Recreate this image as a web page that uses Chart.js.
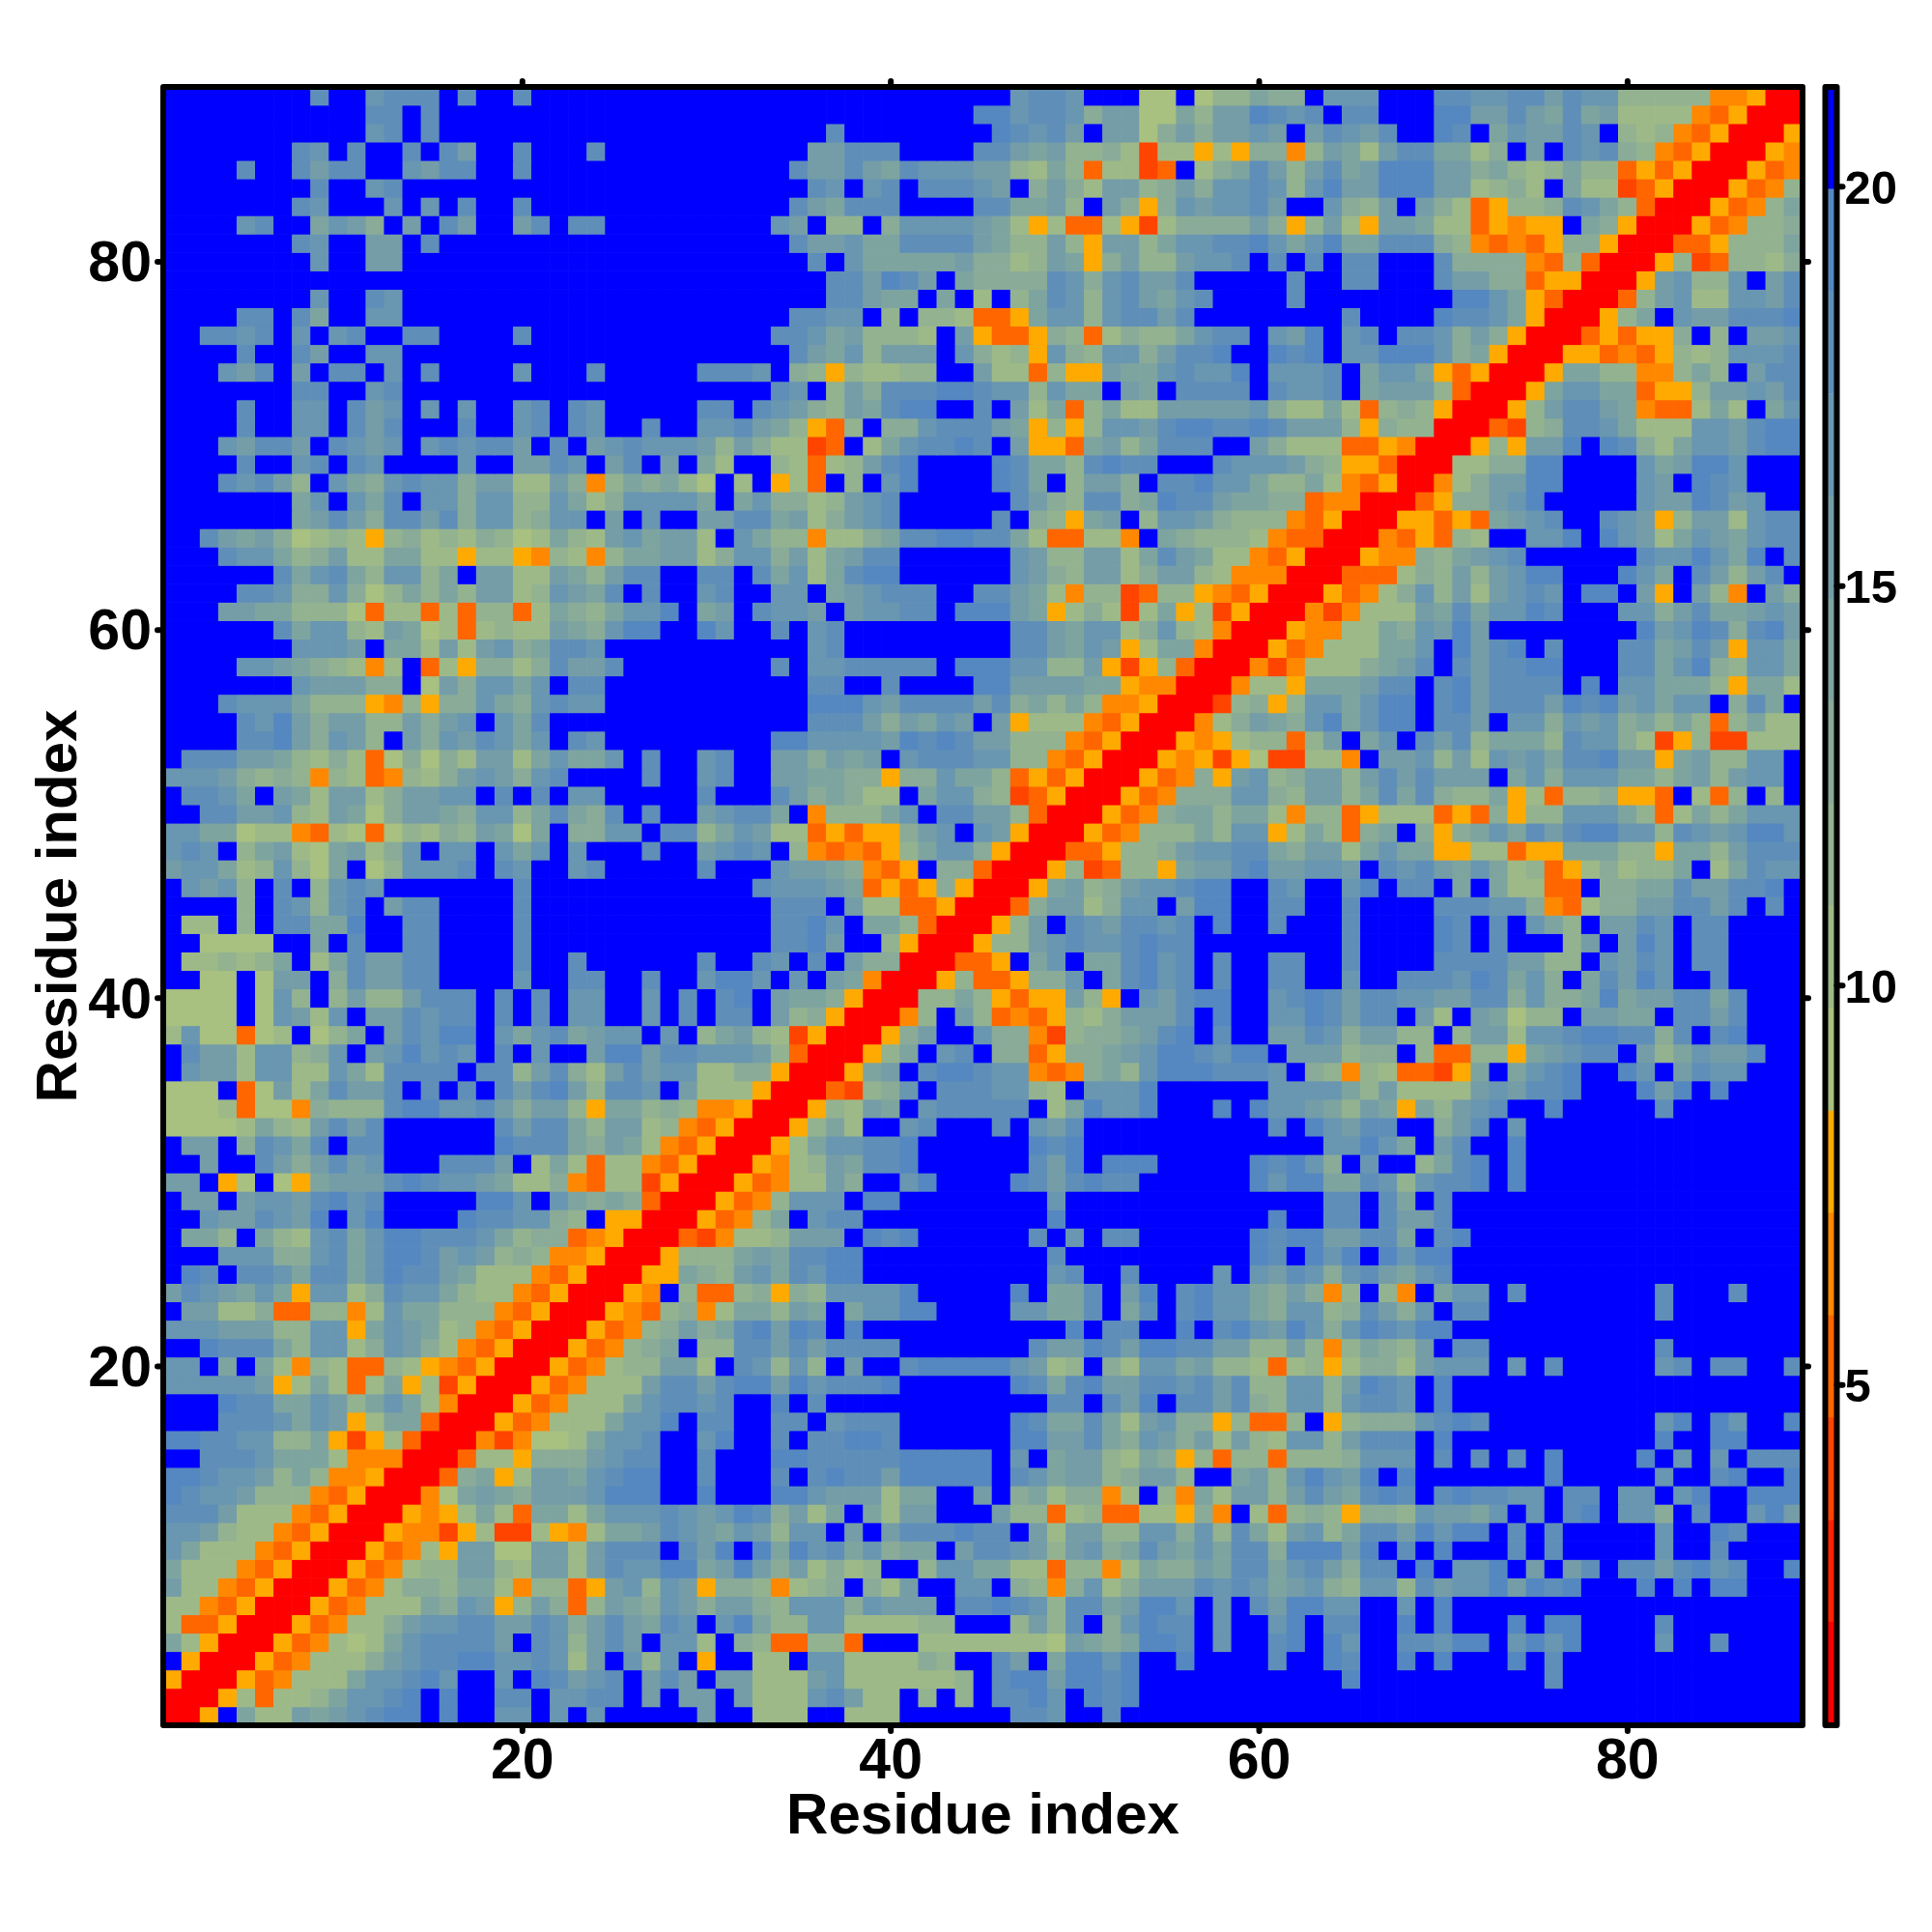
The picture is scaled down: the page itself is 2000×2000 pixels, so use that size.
<!DOCTYPE html>
<html>
<head>
<meta charset="utf-8">
<title>Residue index map</title>
<script src="https://cdn.jsdelivr.net/npm/chart.js@4"></script>
<style>
  html, body { margin: 0; padding: 0; background: #fff; }
  canvas { position: absolute; top: 0; }
  #mapChart { left: 0; }
  #barChart { left: 1870px; }
</style>
</head>
<body>
<canvas id="mapChart" width="2000" height="2000"></canvas>
<canvas id="barChart" width="130" height="2000"></canvas>
<script>
// one string per row, top row (residue 89) first, one character per residue
// groups of ten are only there so the columns can be counted
var mapRows = [
  "........8. .7888.8..8 .......... .......... ......7887 ...11.1335 44.777...8 8778868773 3333aayrr",
  ".......... .88.8..... .......... .......... ....997887 4661153669 878.88...9 9668658562 222aoyrrr",
  ".......... .78.8..... .......... ......8... .....98786 .661464667 6.68768..9 8.576687.3 23aoyrrry",
  ".......87. 8..8.86..8 ...8...... .....66888 ....886563 342d22y2y4 4a36526885 524.6.8784 3aoyrrrya",
  "....8..868 8..7688..8 .......... ....866865 8777663253 o22do.2458 6368569996 645323533o yoyrrryoa",
  "........8. .78....... .......... .....87.78 .88876.464 2663464778 7379669996 62342.522d oyrrryoa3",
  ".......87. ..7.7.8..8 .......... ....865888 ....885563 .64y476778 6..7436.64 2oy3348753 orrryoa35",
  "....78..57 64.6.86..6 8.88...... ...76.33.4 7777652y2o o2yd244446 4y362y6652 2oyayy.54y rrryoa334",
  ".......87. .66.8..... .......... ....866755 8888653363 y663577889 7579558884 3aoaoy44yr rrooy3335",
  "........7. .66....... .......... .....8.755 5556442365 y46336778. 8.8.88...8 4444ao3orr ry3do3324",
  ".......... .......... .......... ......8869 86.5444487 478668.... .8..88...8 6644oyyrrr y67337.68",
  "........7. .87....... .......... ......8865 5.5.2.3587 3786578... .8........ 9975yorrro 367227768",
  "....88.85. .77....... .......... ....8877.3 .332ooy577 378868.... ....8....9 8875yrrry3 5.7668889",
  "..8878.7.7 8..88....8 .......... ...8875633 32.6yooy43 o24335788. 769.78.887 464yrrroyo yy4.3.667",
  "....8..86. .77....... .......... ....865736 66.7423y74 37746889.. 989.779997 45yrrryyoa oy3237778",
  "...768.6.8 8.7.8....7 ...8.....8 887.43y322 33..622o3y y65578779. 7778.5775y oyrrry5533 aa353.688",
  ".......88. .78....... .......... ...87.3648 8899877375 5.65.8888. 8778.56663 orrry57755 oyy366768",
  "....8..77. 867.7.7..7 8.87.....8 8.87643658 99..8.625o 3522666667 42252o343y rrry368865 aoo252.57",
  "....8..77. 868...8..7 8.87..8..7 78653yo3.4 4788865y3y 3776899889 86663y433r rrod348875 222776899",
  "...76886.8 767.787886 .8.6787776 36422do.25 78898.6yyo 5635888..6 4222ooyarr ry3y669.98 425776899",
  "....8..78. 87....7..6 687.68.6.5 2..32o2368 9....98553 8988...877 7643yyorrr 224499.... 756997...",
  "...87863.7 5478774662 264a354531 .2.y2o.3.7 9....985.3 664.889775 3352aoyrra 246699.... 76.987...",
  ".......57. 758.774773 3752477775 .574423678 ......8643 8845988655 44oaarrroy 44679..... 7669867..",
  ".......568 6488684773 477.6.7..6 6885624678 .....8.43y 56.3776433 3aoyrrryyo yo5678..87 6y3662788",
  "..86564123 2y34232431 2532675662 .7533a2245 88998852oo 22a.543332 aoorrraoyo 32..779.97 625765788",
  "...8775346 225522y22y a32a355662 4774625688 ......7633 662586522a oyrrryaa43 5678...... 8779759.8",
  "......8578 537735.662 2653688..8 8.85725899 ......7643 66246632aa arrrooo243 636799...9 75.86368.",
  "....887447 4135353662 37658.8..7 8..77.5678 88..88652a 33do33yaoy rrryoa2473 626787.99. 6y.63a.64",
  "...6655333 1o22o2o33o 25435779.5 6.8776.677 88.99965y2 42d25y2dyr rrada22265 857798...7 746855676",
  "......8577 326512o232 2654799..9 7..8.78... ......8865 7724732arr ryaa225476 96........ 967984896",
  ".......777 6.55262674 5887...... .....78... ......8865 76y255arrr yoa222557. 9689.8...8 85686y775",
  "....776543 2a2.o2y442 48668..... ...8.77888 88.9997733 6ydy3orrra da2224568. 868899...8 857943775",
  ".......766 644.164775 7.88...... .....88..8 ....996666 55yaarrra2 2y555688.8 968888.9.7 75553y552",
  "...8777533 3ya3y44754 7877...... .....99976 8888684535 3aayrrrd34 y3775799.8 9688869896 7577.485.",
  "....879646 6336467.75 8......... .....88864 6576.6y222 aoyrrra246 54795799.8 86.7747674 5353o3522",
  "....889647 63.6476875 7.87...... ...9977776 989866333a oyrrryay23 3o36.57.86 8355538774 2dy3dd222",
  ".888665324 2o14142662 57557.8..7 8..664656. 78887733ao yrrryaydy1 dd22a.6673 6276758896 6y563377.",
  "77764343a3 2oa3246764 78....8..7 8..665544y 447553oyoy rrryoa4y67 3466368686 66.5747775 53563677.",
  ".8875.6526 6246677.8. 8.77.....8 ...8645422 .57743doyr rryoa44477 4366358584 335y2o334y yo.2o3.3.",
  "..88667326 5146654773 58548.8..6 7885.a3335 7.88663orr ryoa455355 2a33oy222o yo4y337775 3o2535777",
  "7755122ao2 1o13243651 5.4477.883 57622oyoyy 467.76yrrr yoa3335377 y253o45.4y 4575868997 738767997",
  "787.356215 6247.77.75 7.7...8..6 787.3aoaoy 35774yrrro oy33467788 546625755y y22oyy5553 3y5536888",
  "6775237315 .137778.87 ..78.....8 ...76654ao y.44orrry3 do33y56689 66776.8786 57523oy242 335.25877",
  ".7673.8.37 87.......8 .......... ..877765oy oy4yrrry56 34677899.. 87..79.88. 5.522oo.44 55866889.",
  "....3.8737 8.688....8 .......... ...888.622 ooyrrro466 2477.699.. 88..8....8 88774ao244 668868.8.",
  ".22.3.8855 9..88....8 .......... ...8897.55 3orrry36.8 768878.9.. 8...8....9 8.8.753.66 87.88....",
  "..1111..5. 8..88....8 .......... ...8896..3 yrrry33678 778988.... ....8....9 8.8...36.6 97.88....",
  ".223235.25 86688....8 ..8......8 ..87.8.644 rrrooy.57. 558978.8.. 88..8....8 8886633.76 87.88....",
  "..11.166.4 86688....7 ..88..8..7 997.7.65ar rry3ooy447 .58978.8.. 88..7..888 798574.586 97..8....",
  "1111.173.3 6336888.8. 8.77..7.8. 89.6554yrr r3353yoyy6 3y.76899.. 7898688776 6884744595 668858...",
  "1111.17627 .668788.8. 8.77..7.8. 88.634yrrr a3.63oaoy3 246668.9.. 7798688.62 .65133.665 5.8868...",
  "2711o12.13 5.68799.75 785677.7.3 5632dyrrry 46..744ad3 445689.8.. 668746633. 3662778998 848.89...",
  ".866277347 .679787.8. 7..6996887 7763orrry3 5.78.44oy4 4567998799 .666344.3o o33y56788. 6357668..",
  ".766277227 528888.883 6842686772 244yrrry56 .899877aoa 4537999888 7.43a32ood y5.5789..9 7.6877...",
  "111.o16258 668.8.8.86 8963887.62 22yrrrod34 7.8887732. 7779...... 7777536222 2676889... 969.9....",
  "1112o11a43 3389977864 663y55343a ayrrry3265 .788888.25 9779...9.9 7765365y53 678..9.... .8.......",
  "1111253268 68......86 88536623ao yrrry352.. 78...8.768 .......... 8.97688..4 68.7...... .........",
  ".66.48758. 88......98 8854652aoy rrry257788 9......989 .......... ...77975.6 8..9...... .........",
  "..6..86468 67...8886. 252o22aoyr rrya236588 9......869 .999.....9 8974.7..35 89.9...... .........",
  "66.y1.1y56 6689877652 24ao22dyrr ryoa2264.. 79....9868 988......9 7995587378 89.9...... .........",
  ".66.677689 78.....997 .75454orrr yoa3777.99 ........7. .......... ...88.85.8 .......... .........",
  "..7668769. 79....9887 743.yyrrry oa35.788.. ........9. .......... 9..88.8668 .......... .........",
  ".553.53278 5799888753 44oayrrrod a223666.98 9......8.7 .88......9 89966885.8 9......... .........",
  "...7774478 5799867634 3aayrrry33 35658899.. ........8. .........9 8.979.9799 .......... .........",
  ".98.887588 5798865222 aoyrrryy54 36758799.. ........78 ..8....7.7 6874786578 .......... .........",
  "6876575y77 248775322a oyrrrya.3o o34y437777 9.....9.55 8.69.89775 464a3.3a.5 77.8...... .8...8...",
  ".66224oo33 a2755333ao yrrryao34a 255365.577 99....7755 8.58.89775 477348647. 88........ .8.......",
  "7776663377 y576523aoy rrryoa3464 589698.9.. .........9 .88..9.897 6974798799 .......... .........",
  "..98885377 247642aoyr rryoa345.3 3886868888 .......866 9869988663 363a35436. 88........ .8.......",
  "77.5.52a32 oo32yaoyrr ryoa233662 .87373.6.. 8999997623 .427756332 o23y244267 77.7.8.... .78.88..8",
  "777776y252 o25y2dyrrr yoa2226886 8996978889 ......9858 9668878683 37736987.9 .......... .........",
  "...9885576 35752arrry oa22257887 8..9.8.... ........88 .869.88684 37737887.9 .......... .........",
  "...8887576 y255orrryo a2225779.8 8..88.7888 ......9855 8526744y3o o3.y344478 98........ .79.97..9",
  "998877335y dy2orrrada 1125778..7 9..8.88998 ......9966 8547646263 27736888.9 .......... .9..99...",
  "..88875552 aaarrro22y 4446788..8 ...9988888 99999.7.56 63254y3o33 o3334777.8 .8.8.9.... 9.7.7.888",
  "998776353a ayrrro45y2 6657899..8 ...8.89886 99999.8756 634663..56 379769.9.. .....9.... .7..89..9",
  "98776333ao yrrra15654 6667999..9 ...9976662 55..6.4524 4a2.3a5266 36865898.8 98877.88.7 7.79..999",
  "8886222aoy rrryay252o 5525777876 7984625.52 66...633o2 3oo22y4a.2 o343y44376 657.7.89.7 74.8..796",
  "776322aoyr rryaady2dd 2ya2556876 576377.6.6 888988.626 6337747385 2673588697 99.8.8.... .7..98...",
  "75222aoyrr ryoa2y6611 6626888.86 9.95978574 55.6887636 7458657588 499969.8.9 ...8.8.... .7..8....",
  "5222aoyrrr yoa2336632 6626877995 696462423. .3775522o3 3a25446588 5786488.9. 779.6.68.8 868978..9",
  "622aoyrrry oa2443552a 33oy67376y 443a234.42 6..77.43a4 7246668787 5674377386 7796989... 9.9.99...",
  "22aoyrrryo a2225476y3 64o3654764 6643777476 66.8898738 856997.7.8 69977..7.9 .......... .........",
  "2ooyrrryoa 2246778866 874686587. 7953377222 233...3638 .47988.7.. 79.88..9.9 ...9.99... .8.......",
  "52yrrryoa2 125788886. 873686.772 .43oo33o.. .222222216 545998.7.. 89.97..887 99.7979... .7..8....",
  ".yrrryoa22 2467889977 8726.737.y ..22.77222 243..86.59 979..9.... 8..98..9.9 ...9.8.... .........",
  "yrrryoa222 577897..7. 98678.686. 6622267222 2223.89969 989....... ....9..... .....8.... .........",
  "rrry2o2235 7789.9..88 .7788.6.66 .622278622 .3.3.8897. 989....... .......... .......... .........",
  "rry.522656 7899.9..77 .7.7.....6 ..222..222 ......887. .8........ .......... .......... ........."
];

var levelCodes = 'rqdoay123456789.';
var levelColors = ['#ff0000', '#ff2200', '#ff4400', '#ff6600', '#ff8800', '#ffaa00',
  '#a8c080', '#9eb988', '#93b290', '#89ab98', '#7ea4a0', '#749da8', '#6996b0', '#5f8fb8', '#5588c0', '#0000ff'];
var levelEdges = [0.74, 2.03, 3.31, 4.59, 5.87, 7.15, 8.43, 9.72, 11.0, 12.28, 13.56, 14.84, 16.13, 17.41, 18.69, 19.97, 21.25];

var residueTicks = [20, 40, 60, 80];
var barTicks = [5, 10, 15, 20];
var axisTitle = 'Residue index';

var fontName = '"Liberation Sans", Arial, Helvetica, sans-serif';
Chart.defaults.color = '#000';

function buildMapDatasets() {
  var datasets = [];
  for (var i = 0; i < mapRows.length; i++) {
    var cells = mapRows[i].replace(/ /g, '');
    var residue = mapRows.length - i;
    var data = [];
    var colors = [];
    for (var j = 0; j < cells.length; j++) {
      data.push([residue - 0.5, residue + 0.5]);
      colors.push(levelColors[levelCodes.indexOf(cells.charAt(j))]);
    }
    datasets.push({ data: data, backgroundColor: colors, barPercentage: 1, categoryPercentage: 1, grouped: false });
  }
  return datasets;
}

function buildBarDatasets() {
  var datasets = [];
  for (var i = 0; i < levelColors.length; i++) {
    datasets.push({
      data: [[levelEdges[i], levelEdges[i + 1]]],
      backgroundColor: levelColors[i],
      barPercentage: 1,
      categoryPercentage: 1,
      grouped: false
    });
  }
  return datasets;
}

function tickDot(ctx, x1, y1, x2, y2) {
  ctx.beginPath();
  ctx.moveTo(x1, y1);
  ctx.lineTo(x2, y2);
  ctx.stroke();
}

// frame and the little round ticks, on the sides the chart asks for
var framePlugin = {
  id: 'frame',
  afterDatasetsDraw: function (chart, args, opts) {
    var a = chart.chartArea;
    var ctx = chart.ctx;
    ctx.save();
    ctx.strokeStyle = '#000';
    ctx.lineWidth = 6;
    ctx.lineJoin = 'round';
    ctx.lineCap = 'round';
    ctx.strokeRect(a.left, a.top, a.right - a.left, a.bottom - a.top);
    var i, p;
    for (i = 0; i < opts.xValues.length; i++) {
      p = chart.scales.x.getPixelForValue(opts.xValues[i]);
      tickDot(ctx, p, a.top, p, a.top - 6);
      tickDot(ctx, p, a.bottom, p, a.bottom + 6);
    }
    for (i = 0; i < opts.yValues.length; i++) {
      p = chart.scales.y.getPixelForValue(opts.yValues[i]);
      if (opts.leftTicks) tickDot(ctx, a.left, p, a.left - 6, p);
      tickDot(ctx, a.right, p, a.right + 6, p);
    }
    ctx.restore();
  }
};

var labels = [];
for (var n = 1; n <= mapRows.length; n++) labels.push(n);

new Chart(document.getElementById('mapChart').getContext('2d'), {
  type: 'bar',
  data: { labels: labels, datasets: buildMapDatasets() },
  plugins: [framePlugin],
  options: {
    responsive: false,
    animation: false,
    devicePixelRatio: 1,
    layout: { padding: { left: 0, top: 90, right: 134, bottom: 0 } },
    plugins: {
      legend: { display: false },
      tooltip: { enabled: false },
      frame: {
        xValues: residueTicks.map(function (v) { return v - 1; }),
        yValues: residueTicks,
        leftTicks: true
      }
    },
    scales: {
      x: {
        type: 'category',
        afterFit: function (scale) { scale.height = 214; },
        grid: { display: false },
        border: { display: false },
        ticks: {
          autoSkip: false,
          maxRotation: 0,
          padding: -5,
          font: { family: fontName, size: 59, weight: 'bold' },
          callback: function (value) {
            var label = this.getLabelForValue(value);
            return residueTicks.indexOf(label) >= 0 ? String(label) : null;
          }
        },
        title: {
          display: true,
          text: axisTitle,
          padding: { top: 0, bottom: 83 },
          font: { family: fontName, size: 60, weight: 'bold' }
        }
      },
      y: {
        type: 'linear',
        min: 0.5,
        max: 89.5,
        afterFit: function (scale) { scale.width = 169; },
        afterBuildTicks: function (scale) {
          scale.ticks = residueTicks.map(function (v) { return { value: v }; });
        },
        grid: { display: false },
        border: { display: false },
        ticks: {
          padding: 4,
          labelOffset: 4,
          font: { family: fontName, size: 59, weight: 'bold' }
        },
        title: {
          display: true,
          text: axisTitle,
          padding: { top: 26, bottom: 0 },
          font: { family: fontName, size: 60, weight: 'bold' }
        }
      }
    }
  }
});

new Chart(document.getElementById('barChart').getContext('2d'), {
  type: 'bar',
  data: { labels: [''], datasets: buildBarDatasets() },
  plugins: [framePlugin],
  options: {
    responsive: false,
    animation: false,
    devicePixelRatio: 1,
    layout: { padding: { left: 19.5, top: 90, right: 0, bottom: 214 } },
    plugins: {
      legend: { display: false },
      tooltip: { enabled: false },
      frame: { xValues: [], yValues: barTicks, leftTicks: false }
    },
    scales: {
      x: { display: false },
      y: {
        type: 'linear',
        position: 'right',
        min: levelEdges[0],
        max: levelEdges[levelEdges.length - 1],
        afterFit: function (scale) { scale.width = 98.5; },
        afterBuildTicks: function (scale) {
          scale.ticks = barTicks.map(function (v) { return { value: v }; });
        },
        grid: { display: false },
        border: { display: false },
        ticks: {
          padding: 0,
          labelOffset: 4,
          font: { family: fontName, size: 49, weight: 'bold' }
        }
      }
    }
  }
});
</script>
</body>
</html>
